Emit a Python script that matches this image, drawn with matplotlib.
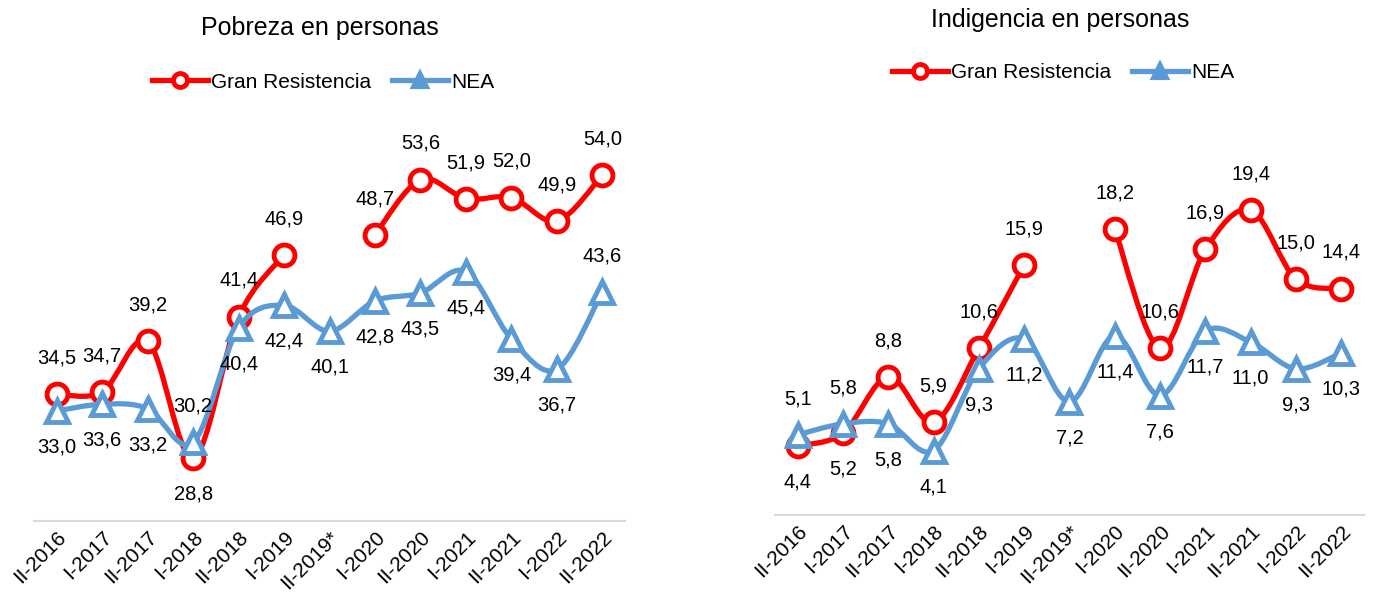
import numpy as np
import matplotlib
matplotlib.use("Agg")
import matplotlib.pyplot as plt
from matplotlib.path import Path
from matplotlib.patches import PathPatch
from matplotlib.lines import Line2D

plt.rcParams['font.family'] = ['Liberation Sans', 'DejaVu Sans']

# Data
categories = ["II-2016", "I-2017", "II-2017", "I-2018", "II-2018", "I-2019", "II-2019*",
              "I-2020", "II-2020", "I-2021", "II-2021", "I-2022", "II-2022"]
pobreza_gr = [34.5, 34.7, 39.2, 28.8, 41.4, 46.9, np.nan, 48.7, 53.6, 51.9, 52.0, 49.9, 54.0]
pobreza_nea = [33.0, 33.6, 33.2, 30.2, 40.4, 42.4, 40.1, 42.8, 43.5, 45.4, 39.4, 36.7, 43.6]
indigencia_gr = [4.4, 5.2, 8.8, 5.9, 10.6, 15.9, np.nan, 18.2, 10.6, 16.9, 19.4, 15.0, 14.4]
indigencia_nea = [5.1, 5.8, 5.8, 4.1, 9.3, 11.2, 7.2, 11.4, 7.6, 11.7, 11.0, 9.3, 10.3]

RED = "#FF0000"
BLUE = "#5B9BD5"


def smooth_path(xs, ys):
    # Excel-like smoothed line (Catmull-Rom as cubic Bezier), broken at gaps
    verts, codes = [], []
    runs, cur = [], []
    for x, y in zip(xs, ys):
        if np.isnan(y):
            if cur:
                runs.append(cur)
                cur = []
        else:
            cur.append((x, y))
    if cur:
        runs.append(cur)
    for run in runs:
        p = np.array(run, float)
        n = len(p)
        verts.append(p[0])
        codes.append(Path.MOVETO)
        for i in range(n - 1):
            p0 = p[i - 1] if i > 0 else p[i]
            p3 = p[i + 2] if i + 2 < n else p[i + 1]
            c1 = p[i] + (p[i + 1] - p0) / 6
            c2 = p[i + 1] - (p3 - p[i]) / 6
            verts += [c1, c2, p[i + 1]]
            codes += [Path.CURVE4] * 3
    return Path(verts, codes)


def draw_series(ax, ys, color, marker, ms, positions, z):
    x = np.arange(len(ys))
    ax.add_patch(PathPatch(smooth_path(x, ys), fill=False, edgecolor=color, lw=3.8,
                           capstyle='round', joinstyle='round', zorder=z))
    ax.plot(x, ys, ls='none', marker=marker, ms=ms, mfc='white', mec=color, mew=3.5, zorder=z + 0.5)
    for xi, yi, pos in zip(x, ys, positions):
        if np.isnan(yi):
            continue
        dy = 26 if pos == 'a' else -26
        ax.annotate(f"{yi:.1f}".replace('.', ','), (xi, yi), xytext=(0, dy),
                    textcoords='offset points', ha='center', va='center', fontsize=14.5, zorder=10)


def setup_axes(ax, ylim):
    ax.set_xlim(-0.5, len(categories) - 0.5)
    ax.set_ylim(*ylim)
    for s in ['top', 'right', 'left']:
        ax.spines[s].set_visible(False)
    ax.spines['bottom'].set_color('#D9D9D9')
    ax.spines['bottom'].set_linewidth(1.5)
    ax.set_yticks([])
    ax.set_xticks(range(len(categories)))
    ax.set_xticklabels(categories, rotation=45, ha='right', rotation_mode='anchor', fontsize=15)
    ax.tick_params(axis='x', length=0, pad=5)


fig = plt.figure(figsize=(13.78, 6), dpi=100)

ax1 = fig.add_axes([0.0247, 0.1317, 0.4289, 0.685])
setup_axes(ax1, (23.2, 59.8))
draw_series(ax1, pobreza_gr, RED, 'o', 15, list('aaabaaaaaaaaa'), 2)
draw_series(ax1, pobreza_nea, BLUE, '^', 16, list('bbbabbbbbbbba'), 4)

ax2 = fig.add_axes([0.5624, 0.1417, 0.4274, 0.6917])
setup_axes(ax2, (0, 26.4))
draw_series(ax2, indigencia_gr, RED, 'o', 15, list('bbaaaaaaaaaaa'), 2)
draw_series(ax2, indigencia_nea, BLUE, '^', 16, list('aabbbbbbbbbbb'), 4)

fig.text(320 / 1378, 1 - 28 / 600, "Pobreza en personas", ha='center', va='center', fontsize=18)
fig.text(1060 / 1378, 1 - 20 / 600, "Indigencia en personas", ha='center', va='center', fontsize=18)

handles = [Line2D([], [], color=RED, lw=3.8, marker='o', ms=10, mfc='white', mec=RED, mew=3.5),
           Line2D([], [], color=BLUE, lw=3.8, marker='^', ms=10, mfc=BLUE, mec=BLUE, mew=3)]
labels = ["Gran Resistencia", "NEA"]
for cx, cy in [(323, 82), (1063, 73)]:
    fig.legend(handles, labels, loc='center', bbox_to_anchor=(cx / 1378, 1 - cy / 600), ncol=2,
               frameon=False, fontsize=15, handlelength=2.7, handletextpad=0.15, columnspacing=1.0)

plt.savefig("out.png", dpi=100)
